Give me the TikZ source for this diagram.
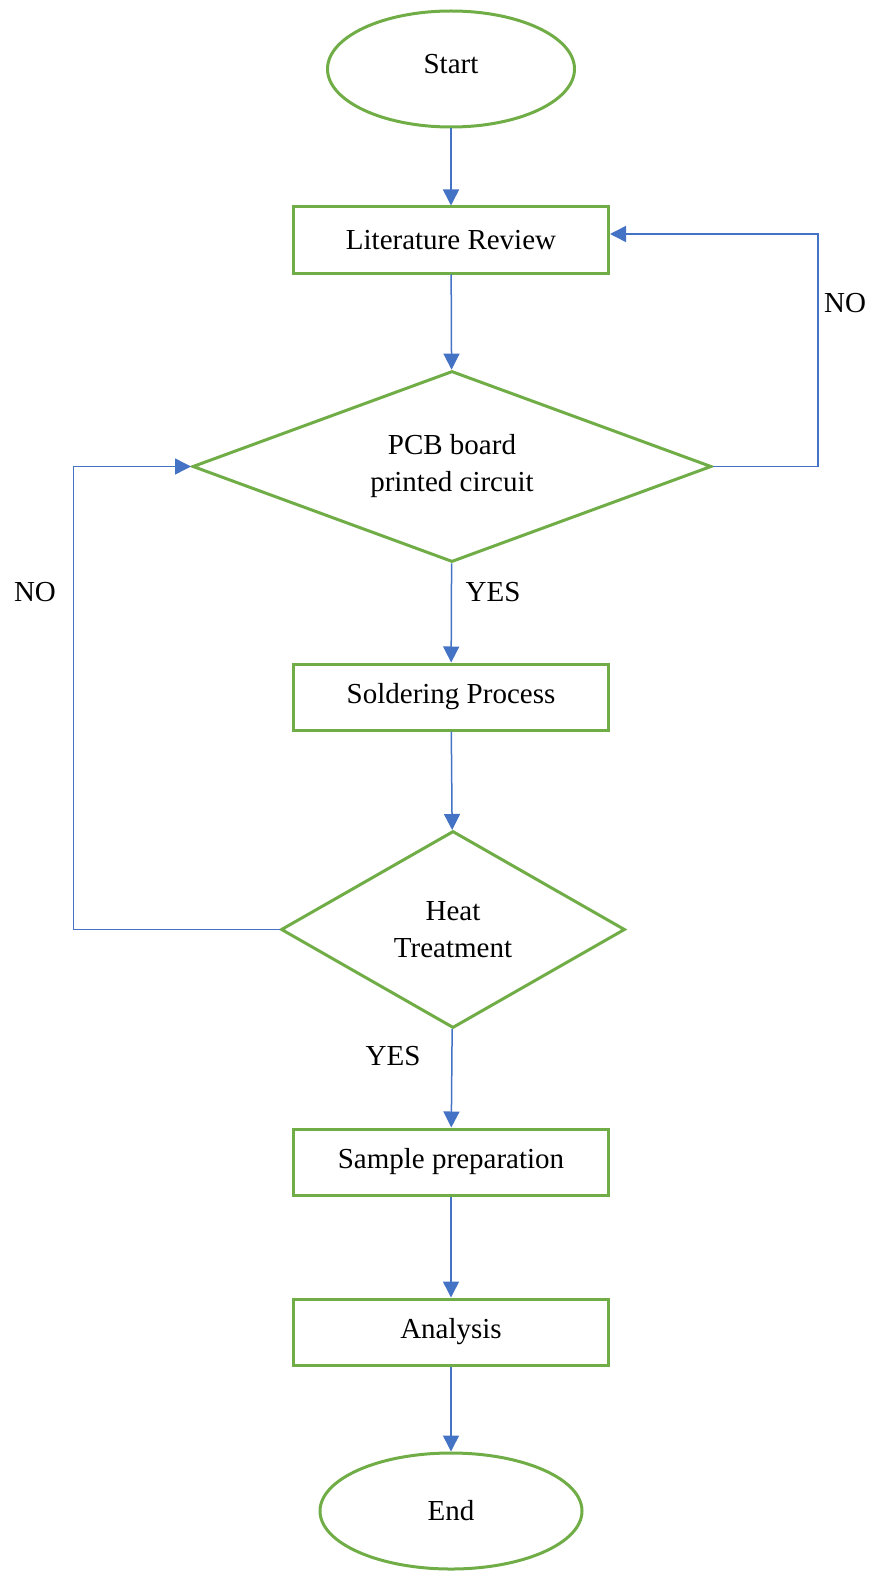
\documentclass[tikz,border=0pt]{standalone}
\usepackage{fontspec}
\setmainfont{Liberation Serif}
\usetikzlibrary{shapes.geometric,arrows.meta}
\definecolor{boxgreen}{RGB}{112,173,71}
\definecolor{linkblue}{RGB}{68,114,196}
\begin{document}
\begin{tikzpicture}[x=0.5pt,y=-0.5pt,
  font=\fontsize{14.5}{18.5}\selectfont,
  term/.style={ellipse, draw=boxgreen, line width=1.5pt, minimum width=123.5pt, minimum height=58pt},
  proc/.style={rectangle, draw=boxgreen, line width=1.5pt, minimum width=157.5pt, minimum height=33pt},
  decide/.style={diamond, draw=boxgreen, line width=1.5pt, aspect=2, inner sep=0pt, align=center},
  link/.style={draw=linkblue, line width=0.75pt, -{Triangle[length=8pt,width=8pt]}}]
\useasboundingbox (0,0) rectangle (876,1573);
% steps
\node[term] (start) at (451,69) {\raisebox{5pt}{Start}};
\node[proc] (lit) at (451,240) {Literature Review};
\node[decide, minimum width=259.5pt, minimum height=95.5pt] (pcb) at (452,466.5) {PCB board\\printed circuit};
\node[proc] (solder) at (451,697) {Soldering Process};
\node[decide, minimum width=172pt, minimum height=98.5pt] (heat) at (453,929.5) {Heat\\Treatment};
\node[proc] (sample) at (451,1162) {Sample preparation};
\node[proc] (analysis) at (451,1332) {Analysis};
\node[term, minimum width=131pt, minimum height=58pt] (end) at (451,1511) {End};
% links
\draw[link] (start) -- (lit);
\draw[link] (lit) -- (pcb);
\draw[link] (pcb) -- (solder);
\draw[link] (solder) -- (heat);
\draw[link] (heat) -- (sample);
\draw[link] (sample) -- (analysis);
\draw[link] (analysis) -- (end);
\draw[link] (pcb.east) -- ++(105,0) |- ([yshift=3pt]lit.east);
\draw[link] (heat.west) -- ++(-206,0) |- (pcb.west);
% labels
\node (noright) at (845,303) {NO};
\node (noleft) at (35,592) {NO};
\node (yespcb) at (493,592) {YES};
\node (yesheat) at (393,1056) {YES};
\end{tikzpicture}
\end{document}
